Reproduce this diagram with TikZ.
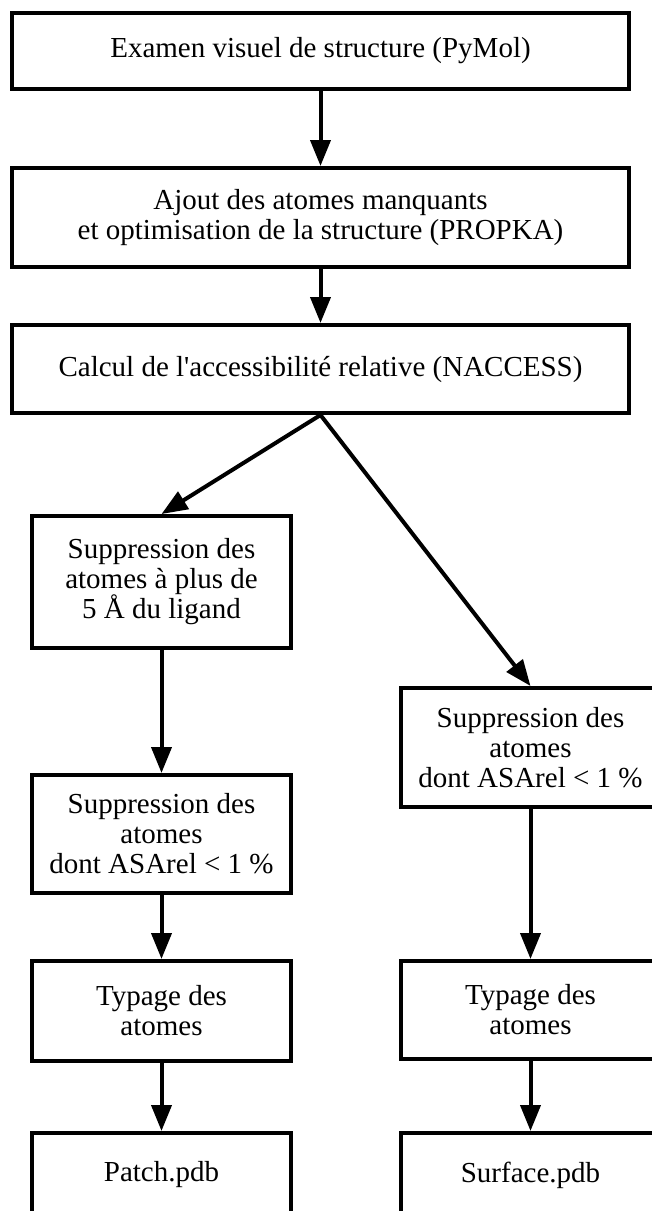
\documentclass[tikz,border=0pt]{standalone}
\usepackage{fontspec}
\setmainfont{Liberation Serif}
\usepackage{tikz}
\usetikzlibrary{arrows.meta, positioning}

\begin{document}
\begin{tikzpicture}[x=1pt, y=-1pt,
  boite/.style={draw, line width=4pt, align=center, inner sep=0pt,
    font=\fontsize{29}{30}\selectfont},
  large/.style={boite, minimum width=617pt},
  etroite/.style={boite, minimum width=259pt},
  fleche/.style={line width=4pt, -{Triangle[length=26pt, width=20pt]}}]
  \useasboundingbox (0,0) rectangle (652,1211);
  % tronc commun
  \node[large, minimum height=76pt] (examen) at (320.5, 51) {Examen visuel de structure (PyMol)};
  \node[large, minimum height=99pt] (ajout) at (320.5, 217.5) {Ajout des atomes manquants\\et optimisation de la structure (PROPKA)};
  \node[large, minimum height=88pt] (calcul) at (320.5, 369) {Calcul de l\textquotesingle accessibilité relative (NACCESS)};
  % branche patch
  \node[etroite, minimum height=132pt] (suppDist) at (161.5, 582) {Suppression des\\atomes à plus de\\ 5 Å du ligand};
  \node[etroite, minimum height=118pt] (suppPatch) at (161.5, 834) {Suppression des\\atomes\\ dont ASArel < 1 \%};
  \node[etroite, minimum height=100pt] (typPatch) at (161.5, 1011) {Typage des\\atomes};
  \node[etroite, minimum height=84pt] (patch) at (161.5, 1175) {Patch.pdb};
  % branche surface
  \node[etroite, minimum height=119pt] (suppSurf) at (530.5, 747.5) {Suppression des\\atomes\\ dont ASArel < 1 \%};
  \node[etroite, minimum height=98pt] (typSurf) at (530.5, 1010) {Typage des\\atomes};
  \node[etroite, minimum height=84pt] (surface) at (530.5, 1175) {Surface.pdb};

  \draw[fleche] (examen) -- (ajout);
  \draw[fleche] (ajout) -- (calcul);
  \draw[fleche] (calcul.south) -- (suppDist.north);
  \draw[fleche] (calcul.south) -- (suppSurf.north);
  \draw[fleche] (suppDist) -- (suppPatch);
  \draw[fleche] (suppPatch) -- (typPatch);
  \draw[fleche] (typPatch) -- (patch);
  \draw[fleche] (suppSurf) -- (typSurf);
  \draw[fleche] (typSurf) -- (surface);
\end{tikzpicture}
\end{document}
